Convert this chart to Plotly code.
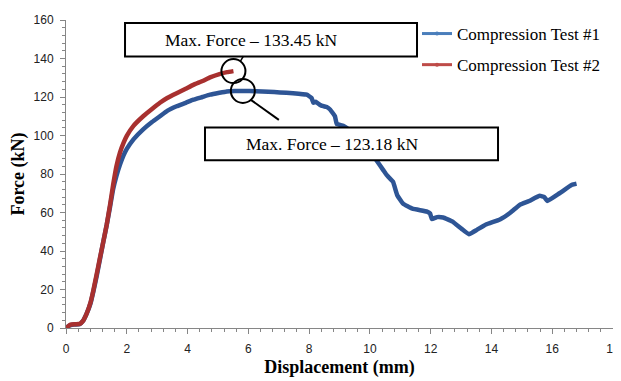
import plotly.graph_objects as go

# Compression Test #1 (blue)
disp1 = [0, 0.1, 0.25, 0.45, 0.55, 0.68, 0.81, 0.9, 1.01, 1.12, 1.23, 1.34, 1.45, 1.55,
         1.66, 1.78, 1.89, 2.0, 2.22, 2.54, 2.83, 3.09, 3.33, 3.64, 3.94, 4.19, 4.49, 4.74,
         5.05, 5.29, 5.55, 5.82, 6.26, 6.66, 7.04, 7.47, 7.92, 8.08, 8.14, 8.22, 8.35, 8.47,
         8.58, 8.69, 8.85, 8.91, 9.12, 9.38, 9.69, 9.99, 10.22, 10.44, 10.55, 10.76, 10.9,
         11.09, 11.4, 11.88, 11.98, 12.04, 12.21, 12.41, 12.71, 13.02, 13.26, 13.52, 13.82,
         14.28, 14.63, 14.93, 15.24, 15.59, 15.74, 15.84, 16.24, 16.65, 16.8]
force1 = [0, 1.2, 1.8, 2.0, 3.5, 7.5, 13, 19, 27, 36, 45, 53.5, 63, 72,
          79, 85, 89.5, 93, 98, 103.2, 107, 110, 112.8, 115.2, 117, 118.6, 120, 121.2,
          122.2, 122.9, 123.1, 123.18, 123.0, 122.7, 122.4, 122.0, 121.2, 119.5, 117, 117.5, 116, 115.2,
          114.8, 113.5, 110, 106, 105, 102, 97, 92, 87, 82, 79.5, 76, 69,
          64.6, 62, 60.5, 59.5, 56.6, 57.6, 57.4, 55.4, 51.5, 48.7, 51, 53.8,
          56.4, 60, 64, 66, 68.7, 68, 66, 70, 74.4, 75]

# Compression Test #2 (red)
disp2 = [0, 0.15, 0.3, 0.45, 0.55, 0.68, 0.81, 0.9, 1.01, 1.12, 1.23, 1.34, 1.45, 1.55,
         1.66, 1.78, 1.89, 2.0, 2.22, 2.54, 2.83, 3.09, 3.33, 3.64, 3.94, 4.19, 4.49, 4.74,
         5.05, 5.3, 5.51]
force2 = [0, 1.8, 2.0, 2.1, 3.5, 7.5, 13.5, 19.5, 28, 36.6, 45, 53.7, 64, 74.2,
          84, 91.3, 96, 99.8, 105, 110, 113.8, 117, 119.5, 122, 124.3, 126.3, 128.3, 130.2,
          131.9, 132.9, 133.45]

names = ["Compression Test #1", "Compression Test #2"]
peak1 = (5.82, 123.18)
peak2 = (5.51, 133.45)
label1 = "Max. Force \u2013 123.18 kN"
label2 = "Max. Force \u2013 133.45 kN"

SERIF = "Liberation Serif, Times New Roman, serif"
SANS = "Liberation Sans Narrow, Arial Narrow, Liberation Sans, sans-serif"

fig = go.Figure()
fig.add_trace(go.Scatter(x=disp1, y=force1, mode="lines", showlegend=False,
                         line=dict(color="#2E5595", width=4.5, shape="spline", smoothing=0.3)))
fig.add_trace(go.Scatter(x=disp2, y=force2, mode="lines", showlegend=False,
                         line=dict(color="#A8302F", width=4.5, shape="spline", smoothing=0.3)))
# legend entries
fig.add_trace(go.Scatter(x=[None], y=[None], mode="lines+markers", name=names[0], legendgroup="a",
                         line=dict(color="#4A7EBB", width=3), marker=dict(size=4, color="#4A7EBB")))
fig.add_trace(go.Scatter(x=[None], y=[None], mode="lines+markers", name=names[1], legendgroup="b",
                         line=dict(color="#BE4B48", width=3), marker=dict(size=4, color="#BE4B48")))

shapes = []
# label boxes
shapes.append(dict(type="rect", xref="paper", yref="paper", x0=0.1079, x1=0.6417, y0=0.8814, y1=0.9904,
                   line=dict(color="black", width=2), fillcolor="white", layer="above"))
shapes.append(dict(type="rect", xref="paper", yref="paper", x0=0.2541, x1=0.7898, y0=0.5449, y1=0.6506,
                   line=dict(color="black", width=2), fillcolor="white", layer="above"))
# circles at peaks
for px, py in (peak1, peak2):
    shapes.append(dict(type="circle", xref="x", yref="y", xsizemode="pixel", ysizemode="pixel",
                       xanchor=px, yanchor=py, x0=-12, x1=12, y0=-12, y1=12,
                       line=dict(color="black", width=2), layer="above"))
# leader line from circle of test #1
shapes.append(dict(type="line", xref="x", yref="y", xsizemode="pixel", ysizemode="pixel",
                   xanchor=peak1[0], yanchor=peak1[1], x0=8, y0=-9, x1=36, y1=-29,
                   line=dict(color="black", width=2), layer="above"))
# small connector for test #2
shapes.append(dict(type="line", xref="x", yref="y", xsizemode="pixel", ysizemode="pixel",
                   xanchor=peak2[0], yanchor=peak2[1], x0=7, y0=10, x1=10, y1=15,
                   line=dict(color="black", width=1.5), layer="above"))

annotations = [
    dict(xref="paper", yref="paper", x=0.3373, y=0.9359, text=label2, showarrow=False,
         xanchor="center", yanchor="middle",
         font=dict(family=SERIF, size=17.5, color="black")),
    dict(xref="paper", yref="paper", x=0.4854, y=0.5978, text=label1, showarrow=False,
         xanchor="center", yanchor="middle",
         font=dict(family=SERIF, size=17.5, color="black")),
]

# page body has an 8px margin, so the figure is offset accordingly
fig.update_layout(
    width=621, height=381,
    margin=dict(l=58, r=16, t=8, b=61),
    paper_bgcolor="white", plot_bgcolor="white",
    shapes=shapes, annotations=annotations,
    showlegend=True,
    legend=dict(x=0.6417, y=1.013, xanchor="left", yanchor="top",
                bgcolor="rgba(0,0,0,0)",
                font=dict(family=SERIF, size=17, color="black"), itemwidth=30,
                tracegroupgap=6),
    xaxis=dict(range=[0, 18], dtick=2, showgrid=False, zeroline=False, automargin=False,
               showline=True, linecolor="#868686", linewidth=1,
               ticks="outside", ticklen=5, tickcolor="#868686", ticklabelstandoff=5,
               minor=dict(dtick=0.4, ticks="outside", ticklen=3, tickcolor="#868686"),
               tickfont=dict(family=SANS, size=12, color="#222"),
               title=dict(text="<b>Displacement (mm)</b>", standoff=4,
                          font=dict(family=SERIF, size=18, color="black"))),
    yaxis=dict(range=[0, 160], dtick=20, showgrid=False, zeroline=False, automargin=False,
               showline=True, linecolor="#868686", linewidth=1,
               ticks="outside", ticklen=5, tickcolor="#868686", ticklabelstandoff=4,
               minor=dict(dtick=4, ticks="outside", ticklen=3, tickcolor="#868686"),
               tickfont=dict(family=SANS, size=12, color="#222"),
               title=dict(text="<b>Force (kN)</b>", standoff=8,
                          font=dict(family=SERIF, size=18, color="black"))),
)

fig.write_html("out.html")
